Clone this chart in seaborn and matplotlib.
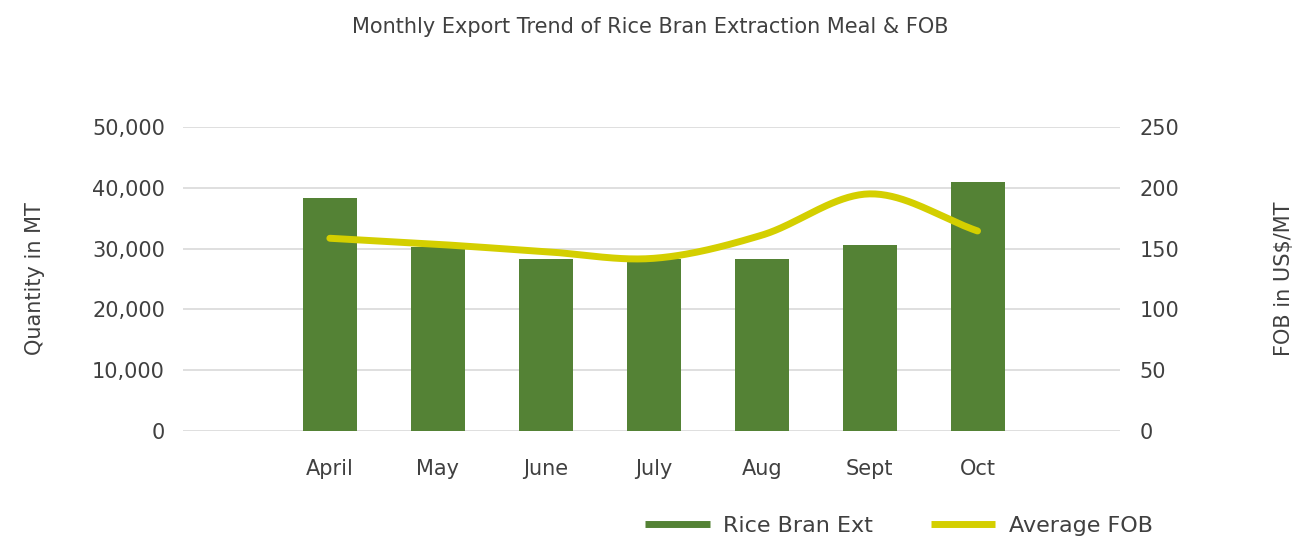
import numpy as np
import pandas as pd
import matplotlib
matplotlib.use("Agg")
import matplotlib.pyplot as plt
from matplotlib.lines import Line2D
from matplotlib.ticker import FuncFormatter
import seaborn as sns

months = ["April", "May", "June", "July", "Aug", "Sept", "Oct"]
quantity_mt = [38300, 30300, 28300, 28300, 28300, 30600, 40900]
avg_fob = [158.5, 153.5, 147.5, 142.0, 161.0, 195.0, 164.5]

sns.set_theme(style="white")
plt.rcParams["font.family"] = ["DejaVu Sans"]

BAR_COLOR = "#548235"
LINE_COLOR = "#D4CF00"
TEXT_COLOR = "#404040"
GRID_COLOR = "#D9D9D9"


def catmull_rom(x, y, n=40):
    """Smooth curve through the points (Catmull-Rom, as in spreadsheet smoothed lines)."""
    x = np.asarray(x, float)
    y = np.asarray(y, float)
    px = np.concatenate([[2 * x[0] - x[1]], x, [2 * x[-1] - x[-2]]])
    py = np.concatenate([[2 * y[0] - y[1]], y, [2 * y[-1] - y[-2]]])
    xs, ys = [], []
    for i in range(1, len(px) - 2):
        t = np.linspace(0, 1, n, endpoint=(i == len(px) - 3))
        for arr, out in ((px, xs), (py, ys)):
            p0, p1, p2, p3 = arr[i - 1], arr[i], arr[i + 1], arr[i + 2]
            out.extend(0.5 * ((2 * p1) + (-p0 + p2) * t
                              + (2 * p0 - 5 * p1 + 4 * p2 - p3) * t ** 2
                              + (-p0 + 3 * p1 - 3 * p2 + p3) * t ** 3))
    return np.array(xs), np.array(ys)


df = pd.DataFrame({"month": months, "qty": quantity_mt, "fob": avg_fob})

fig = plt.figure(figsize=(13.01, 5.37), dpi=100)
ax = fig.add_axes([0.1407, 0.1974, 0.7202, 0.5661])

sns.barplot(data=df, x="month", y="qty", color=BAR_COLOR, width=0.5,
            saturation=1, linewidth=0, ax=ax, zorder=2)

ax.set_ylim(0, 50000)
ax.set_yticks(np.arange(0, 50001, 10000))
ax.yaxis.set_major_formatter(FuncFormatter(lambda v, _: f"{int(v):,}"))
ax.set_xlim(-1.36, 7.32)
ax.grid(axis="y", color=GRID_COLOR, linewidth=1.2, zorder=0)
ax.set_axisbelow(True)
for s in ax.spines.values():
    s.set_visible(False)
ax.tick_params(axis="both", length=0, labelsize=15, colors=TEXT_COLOR)
ax.tick_params(axis="y", pad=13)
ax.tick_params(axis="x", pad=20)
ax.set_xlabel("")
ax.set_ylabel("Quantity in MT", fontsize=15, color=TEXT_COLOR, labelpad=34)

ax2 = ax.twinx()
sx, sy = catmull_rom(np.arange(len(months)), avg_fob)
sns.lineplot(x=sx, y=sy, color=LINE_COLOR, linewidth=5, ax=ax2,
             sort=False, solid_capstyle="round", zorder=3)
ax2.set_ylim(0, 250)
ax2.set_yticks(np.arange(0, 251, 50))
ax2.set_xlim(-1.36, 7.32)
for s in ax2.spines.values():
    s.set_visible(False)
ax2.grid(False)
ax2.tick_params(axis="y", length=0, labelsize=15, colors=TEXT_COLOR, pad=14)
ax2.set_ylabel("FOB in US$/MT", fontsize=15, color=TEXT_COLOR, labelpad=68)

fig.text(0.5, 1 - 27 / 537, "Monthly Export Trend of Rice Bran Extraction Meal & FOB",
         ha="center", va="center", fontsize=15, color=TEXT_COLOR)

handles = [Line2D([], [], color=BAR_COLOR, linewidth=5, solid_capstyle="butt"),
           Line2D([], [], color=LINE_COLOR, linewidth=5, solid_capstyle="butt")]
fig.legend(handles, ["Rice Bran Ext", "Average FOB"], loc="center",
           bbox_to_anchor=(0.691, 0.02), ncol=2, frameon=False,
           fontsize=16, handlelength=2.9, handletextpad=0.6, columnspacing=2.6,
           labelcolor=TEXT_COLOR)

fig.savefig("out.png", dpi=100)
